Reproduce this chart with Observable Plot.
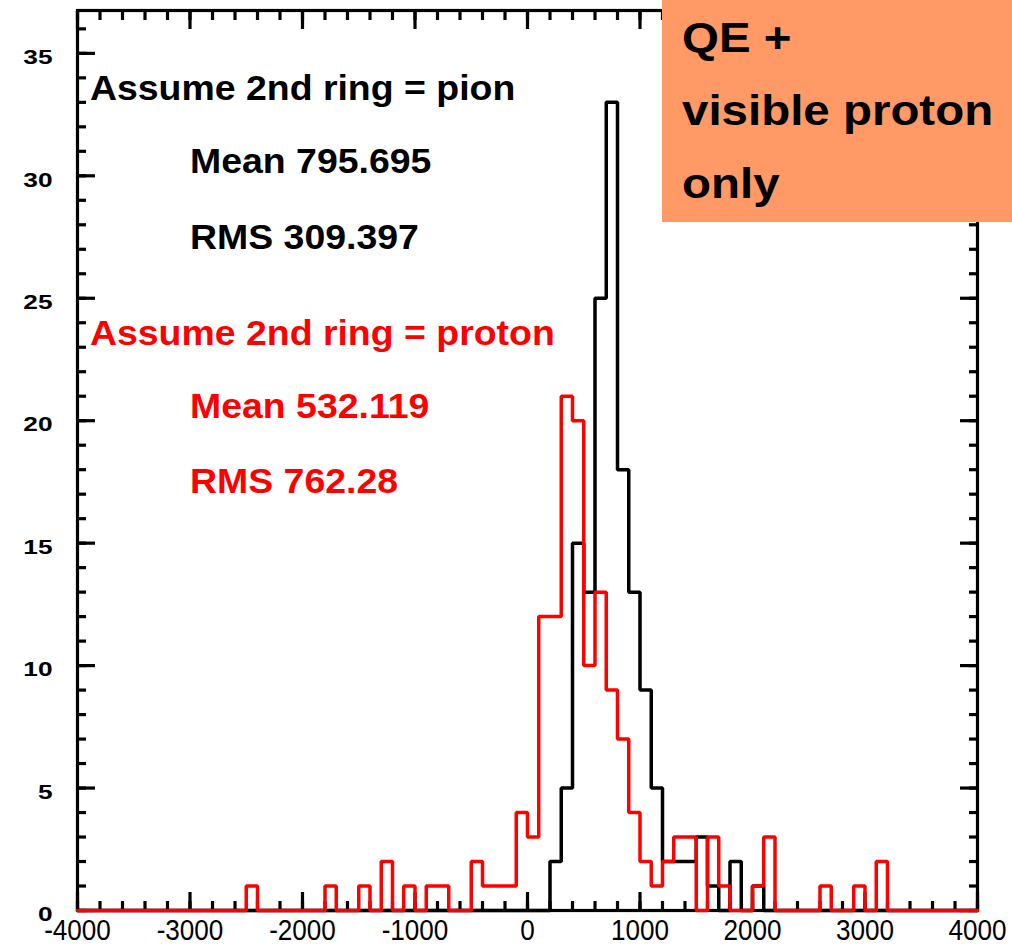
<!DOCTYPE html>
<html><head><meta charset="utf-8">
<script src="https://cdn.jsdelivr.net/npm/d3@7"></script>
<script src="https://cdn.jsdelivr.net/npm/@observablehq/plot@0.6"></script>
<style>
html,body{margin:0;padding:0;background:#fff;}
#wrap{position:relative;width:1012px;height:946px;overflow:hidden;font-family:"Liberation Sans",Arial,Helvetica,sans-serif;}
#chart svg{display:block;}
#box{position:absolute;left:662px;top:0;width:350px;height:222px;background:#FF9966;color:#000;font-weight:bold;font-size:42px;line-height:73px;padding-top:1px;box-sizing:border-box;}
#box span{display:block;padding-left:20px;transform:scaleX(1.13);transform-origin:20px 0;white-space:nowrap;}
</style></head>
<body>
<div id="wrap"><div id="chart"></div>
<div id="box"><span>QE +</span><span>visible proton</span><span>only</span></div></div>
<script>
// Histogram binning (80 bins of 100 from -4000 to 4000)
const binStart = -4000;
const binWidth = 100;

// Counts per bin, "Assume 2nd ring = pion" (black)
const pionCounts = [
  0,0,0,0,0,0,0,0,0,0,      // -4000 .. -3100
  0,0,0,0,0,0,0,0,0,0,      // -3000 .. -2100
  0,0,0,0,0,0,0,0,0,0,      // -2000 .. -1100
  0,0,0,0,0,0,0,0,0,0,      // -1000 .. -100
  0,0,2,5,15,13,25,33,18,13,// 0 .. 900
  9,5,2,2,2,3,1,0,2,0,      // 1000 .. 1900
  1,0,0,0,0,0,0,0,0,0,      // 2000 .. 2900
  0,0,0,0,0,0,0,0,0,0       // 3000 .. 3900
];
// Counts per bin, "Assume 2nd ring = proton" (red)
const protonCounts = [
  0,0,0,0,0,0,0,0,0,0,
  0,0,0,0,0,1,0,0,0,0,
  0,0,1,0,0,1,0,2,0,1,
  0,1,1,0,0,2,1,1,1,4,
  3,12,12,21,20,10,13,9,7,4,
  2,1,2,3,3,0,3,1,0,0,
  1,3,0,0,0,0,1,0,0,1,
  0,2,0,0,0,0,0,0,0,0
];

const xMajorTicks = [-4000,-3000,-2000,-1000,0,1000,2000,3000,4000];
const xMinorTicks = d3.range(-4000, 4001, 200);
const yMajorTicks = [0,5,10,15,20,25,30,35];
const yMinorTicks = d3.range(0, 37, 1);

const pionNotes = [
  {text: "Assume 2nd ring = pion", x: -3890, y: 33.1},
  {text: "Mean 795.695", x: -3000, y: 30.1},
  {text: "RMS 309.397", x: -3000, y: 27.0}
];
const protonNotes = [
  {text: "Assume 2nd ring = proton", x: -3890, y: 23.1},
  {text: "Mean 532.119", x: -3000, y: 20.1},
  {text: "RMS 762.28", x: -3000, y: 17.05}
];

function stepRows(counts) {
  const r = counts.map((c, i) => ({x: binStart + i * binWidth, y: c}));
  r.push({x: binStart + counts.length * binWidth, y: counts[counts.length - 1]});
  return r;
}

const font = '"Liberation Sans", Arial, Helvetica, sans-serif';
const tickOpts = {strokeWidth: 3.2, fill: "none", label: null};

const chart = Plot.plot({
  width: 1012, height: 946,
  marginLeft: 77, marginRight: 35, marginTop: 10, marginBottom: 36,
  style: {fontFamily: font, background: "white", color: "black", overflow: "visible"},
  x: {domain: [-4000, 4000]},
  y: {domain: [0, 36.75]},
  marks: [
    Plot.frame({stroke: "black", strokeWidth: 3.2}),
    Plot.axisX({anchor: "bottom", ticks: xMajorTicks, tickSize: -18, ...tickOpts}),
    Plot.axisX({anchor: "bottom", ticks: xMinorTicks, tickSize: -9, ...tickOpts}),
    Plot.axisX({anchor: "top", ticks: xMajorTicks, tickSize: -18, ...tickOpts}),
    Plot.axisX({anchor: "top", ticks: xMinorTicks, tickSize: -9, ...tickOpts}),
    Plot.axisY({anchor: "left", ticks: yMajorTicks, tickSize: -18, ...tickOpts}),
    Plot.axisY({anchor: "left", ticks: yMinorTicks, tickSize: -9, ...tickOpts}),
    Plot.axisY({anchor: "right", ticks: yMajorTicks, tickSize: -18, ...tickOpts}),
    Plot.axisY({anchor: "right", ticks: yMinorTicks, tickSize: -9, ...tickOpts}),
    Plot.axisX({anchor: "bottom", ticks: xMajorTicks, tickSize: 0, tickPadding: 9, fontSize: 29, tickFormat: d => String(d), label: null}),
    Plot.axisY({anchor: "left", ticks: yMajorTicks, tickSize: 0, tickPadding: 25, fontSize: 21, tickFormat: d => String(d), label: null}),
    Plot.line(stepRows(pionCounts), {x: "x", y: "y", curve: "step-after", stroke: "black", strokeWidth: 3.5, strokeLinejoin: "miter"}),
    Plot.line(stepRows(protonCounts), {x: "x", y: "y", curve: "step-after", stroke: "#ff0000", strokeWidth: 3.5, strokeLinejoin: "miter"}),
    Plot.text(pionNotes, {x: "x", y: "y", text: "text", fill: "black", fontSize: 35, fontWeight: "bold", textAnchor: "start", lineAnchor: "bottom"}),
    Plot.text(protonNotes, {x: "x", y: "y", text: "text", fill: "#ff0000", fontSize: 35, fontWeight: "bold", textAnchor: "start", lineAnchor: "bottom"})
  ]
});

function stretch(sel, sx, sy, dy, weight) {
  chart.querySelectorAll(sel).forEach(t => {
    const tr = t.getAttribute("transform") || "";
    t.setAttribute("transform", tr + ` translate(0,${dy}) scale(${sx},${sy})`);
    if (weight) t.setAttribute("font-weight", weight);
  });
}
stretch('g[aria-label="x-axis tick label"] text', 0.9, 1, 0);
stretch('g[aria-label="y-axis tick label"] text', 1.25, 1, 4, "bold");
stretch('g[aria-label="text"] text', 1.07, 1, 0);

document.getElementById("chart").appendChild(chart);
</script>
</body></html>
